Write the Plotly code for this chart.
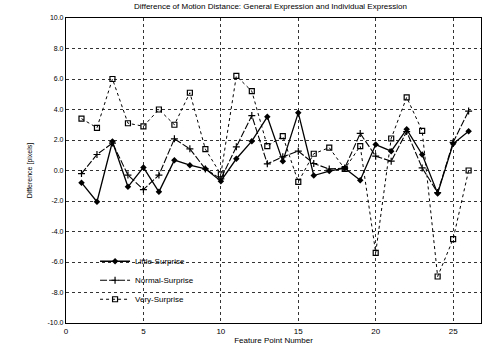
import plotly.graph_objects as go

feature_points = list(range(1, 27))
little_surprise = [-0.8, -2.05, 1.9, -1.07, 0.2, -1.4, 0.68, 0.35, 0.11, -0.7,
                   0.77, 1.92, 3.52, 0.6, 3.78, -0.33, -0.04, 0.15, -0.64, 1.7,
                   1.27, 2.7, 1.05, -1.5, 1.75, 2.58]
normal_surprise = [-0.2, 1.05, 1.8, -0.3, -1.25, -0.3, 2.08, 1.42, 0.1, -0.55,
                   1.55, 3.6, 0.44, 0.9, 1.27, 0.46, 0.1, 0.16, 2.43, 0.94,
                   0.61, 2.55, 0.17, -1.45, 1.85, 3.9]
very_surprise = [3.4, 2.8, 6.0, 3.1, 2.9, 4.0, 3.0, 5.1, 1.4, -0.25,
                 6.2, 5.2, 1.6, 2.25, -0.75, 1.1, 1.5, 0.1, 1.6, -5.4,
                 2.1, 4.8, 2.6, -6.95, -4.5, 0.0]
x_ticks = [0, 5, 10, 15, 20, 25]
y_ticks = [10, 8, 6, 4, 2, 0, -2, -4, -6, -8, -10]
y_tick_labels = ["10.0", "8.0", "6.0", "4.0", "2.0", "0.0", "-2.0", "-4.0", "-6.0", "-8.0", "-10.0"]

FONT = "Liberation Sans, Arial, sans-serif"

fig = go.Figure()
fig.add_trace(go.Scatter(
    x=feature_points, y=little_surprise, name="Little-Surprise",
    mode="lines+markers",
    line=dict(color="black", width=1.3, dash="solid"),
    marker=dict(symbol="diamond", size=5, color="black"),
))
fig.add_trace(go.Scatter(
    x=feature_points, y=normal_surprise, name="Normal-Surprise",
    mode="lines+markers",
    line=dict(color="black", width=1.1, dash="7px,2px"),
    marker=dict(symbol="cross-thin", size=5, line=dict(color="black", width=1.2)),
))
fig.add_trace(go.Scatter(
    x=feature_points, y=very_surprise, name="Very-Surprise",
    mode="lines+markers",
    line=dict(color="black", width=1, dash="dot"),
    marker=dict(symbol="square-open", size=5, color="black", line=dict(color="black", width=1.2)),
))

fig.update_layout(
    width=483, height=347,
    margin=dict(l=66, r=2, t=18, b=24),
    paper_bgcolor="white", plot_bgcolor="white",
    font=dict(family=FONT, size=8, color="black"),
    title=dict(text="Difference of Motion Distance: General Expression and Individual Expression",
               x=0.56, xanchor="center", y=0.99, yanchor="top",
               font=dict(family=FONT, size=8, color="black")),
    showlegend=True,
    legend=dict(x=0.07, y=0.25, xanchor="left", yanchor="top",
                bgcolor="rgba(255,255,255,0)", font=dict(size=8),
                tracegroupgap=0, itemwidth=30),
)
fig.update_xaxes(
    range=[0, 26.8], tickvals=x_ticks, ticktext=[str(v) for v in x_ticks],
    showgrid=True, gridcolor="#333", gridwidth=1, griddash="dot",
    showline=True, linecolor="black", linewidth=1.2, mirror=True,
    zeroline=False, ticks="", tickfont=dict(size=8),
    title=dict(text="Feature Point Number", font=dict(size=8), standoff=1),
)
fig.update_yaxes(
    range=[-10, 10], tickvals=y_ticks, ticktext=y_tick_labels,
    showgrid=True, gridcolor="#333", gridwidth=1, griddash="dot",
    showline=True, linecolor="black", linewidth=1.2, mirror=True,
    zeroline=False, ticks="", tickfont=dict(size=7),
    title=dict(text="Difference [pixels]", font=dict(size=7), standoff=14),
)

fig.write_html("out.html", config={"displayModeBar": False},
               post_script="document.body.style.margin='0';")
